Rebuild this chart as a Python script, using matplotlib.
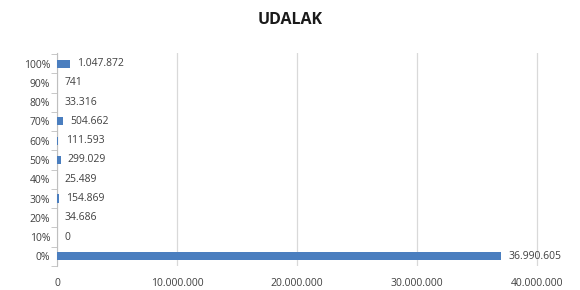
import matplotlib.pyplot as plt
import numpy as np

categories = ['0%', '10%', '20%', '30%', '40%', '50%', '60%', '70%', '80%', '90%', '100%']
values = [36990605, 0, 34686, 154869, 25489, 299029, 111593, 504662, 33316, 741, 1047872]
x_ticks = [0, 10000000, 20000000, 30000000, 40000000]


def fmt(v):
    return f'{v:,}'.replace(',', '.')


plt.rcParams['font.family'] = ['Open Sans', 'DejaVu Sans']

fig = plt.figure(figsize=(5.8, 2.9), dpi=100)
ax = fig.add_axes([57 / 580, 24 / 290, (540 - 57) / 580, (237 - 24) / 290])

y = np.arange(len(categories))
ax.barh(y, values, height=0.42, color='#4a7ebf', zorder=3)

for yi, v in zip(y, values):
    ax.text(v + 600000, yi, fmt(v), va='center', ha='left', fontsize=7.5, color='#404040')

ax.set_xlim(0, 40250000)
ax.set_ylim(-0.5, len(categories) - 0.45)
ax.set_yticks(y)
ax.set_yticklabels(categories, fontsize=7.5, color='#404040')
ax.set_yticks(np.arange(-0.5, len(categories) + 0.5, 1), minor=True)
ax.tick_params(axis='y', which='major', length=0, pad=5)
ax.tick_params(axis='y', which='minor', length=4, color='#bfbfbf')

ax.set_xticks(x_ticks)
ax.set_xticklabels([fmt(t) for t in x_ticks], fontsize=7.5, color='#404040')
ax.tick_params(axis='x', length=0, pad=9)
ax.grid(axis='x', color='#d9d9d9', linewidth=0.9, zorder=0)

for side in ['top', 'right', 'bottom']:
    ax.spines[side].set_visible(False)
ax.spines['left'].set_color('#bfbfbf')

fig.text(0.5, 0.93, 'UDALAK', ha='center', va='center', fontsize=11.5, fontweight='bold', color='#1a1a1a')

fig.savefig('out.png', dpi=100)
